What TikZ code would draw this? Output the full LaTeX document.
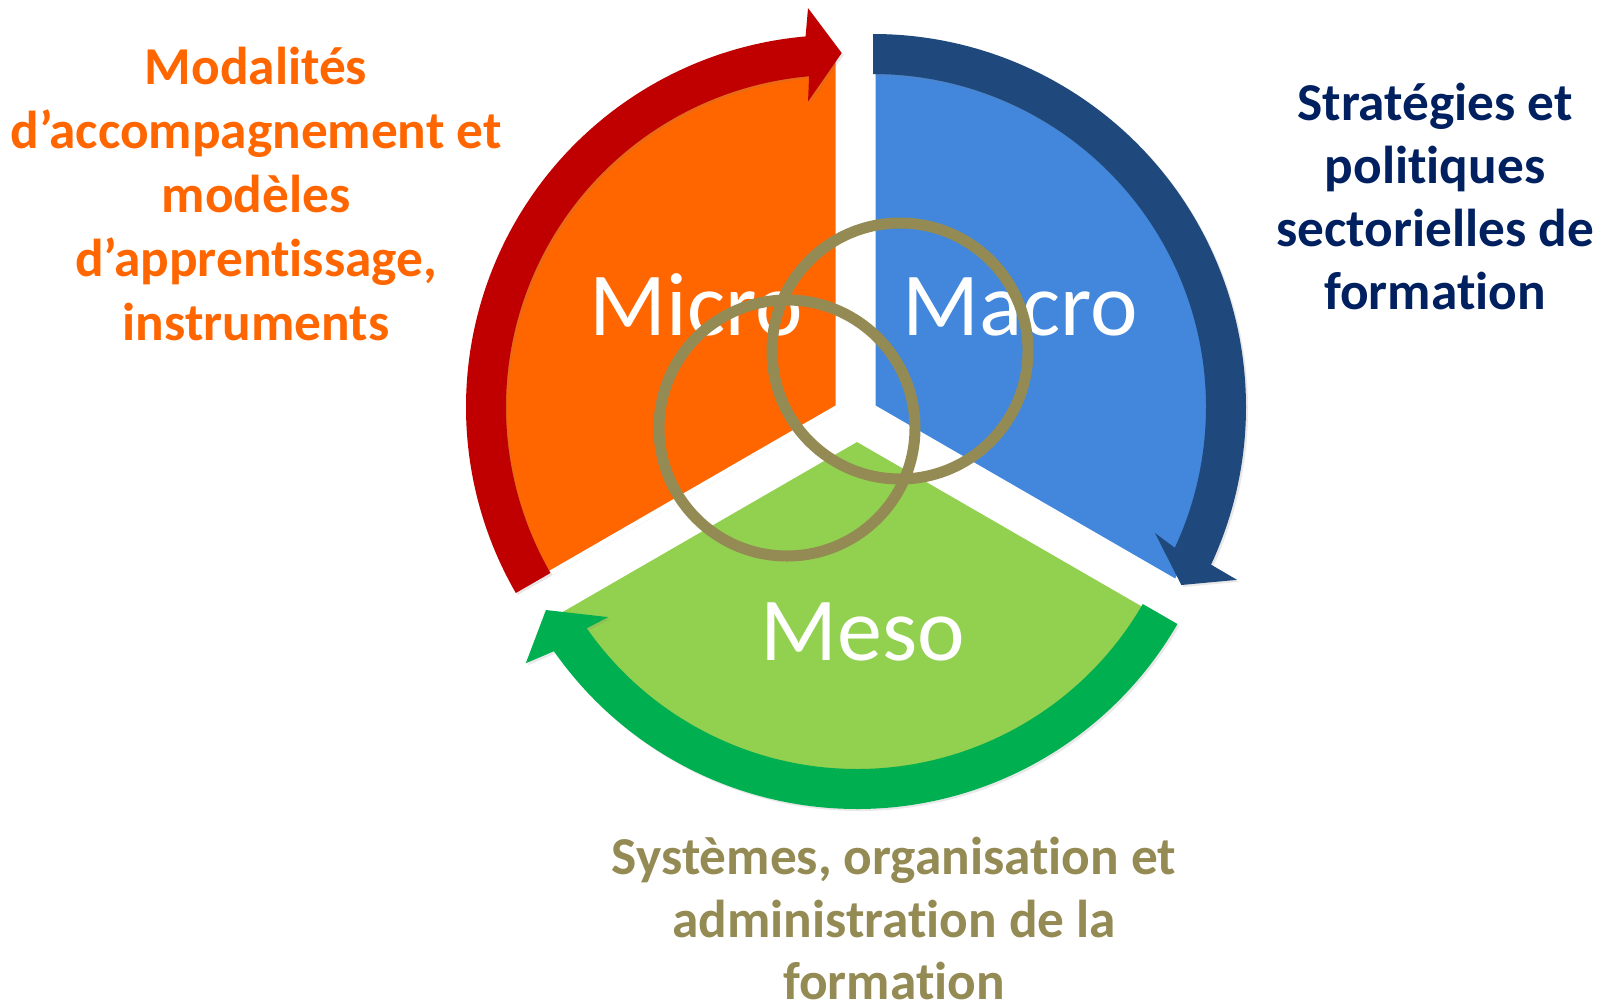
\documentclass[tikz,border=0pt]{standalone}
\usepackage{fontspec}
\setmainfont{Carlito}[Ligatures={NoCommon}]
\usetikzlibrary{shadows,calc}
\definecolor{orangeF}{HTML}{FF6600}
\definecolor{redA}{HTML}{C00000}
\definecolor{blueF}{HTML}{4287DB}
\definecolor{blueA}{HTML}{1F497D}
\definecolor{greenF}{HTML}{92D050}
\definecolor{greenA}{HTML}{00B050}
\definecolor{oliveC}{HTML}{948A54}
\definecolor{navyC}{HTML}{002060}
\begin{document}
\begin{tikzpicture}[x=1pt,y=1pt,
  sector/.style={draw=white, line width=5pt, line join=round,
    drop shadow={opacity=0.18, shadow xshift=2pt, shadow yshift=-2pt}},
  band/.style={drop shadow={opacity=0.18, shadow xshift=2pt, shadow yshift=-2pt}},
  ring/.style={draw=oliveC, line width=11pt},
  big/.style={text=white, font=\fontsize{90}{100}\selectfont, anchor=base, inner sep=0pt},
  lab/.style={font=\bfseries\fontsize{53.3}{64}\selectfont, anchor=base, inner sep=0pt}]

\fill[white] (0,0) rectangle (1606,-1007);
\useasboundingbox (0,0) rectangle (1606,-1007);

\coordinate (vO) at (838,-407);
\coordinate (vB) at (873,-407);
\coordinate (vG) at (857,-439);

% sectors
\path[sector, fill=orangeF] (vO) -- ++(90:350pt) arc[start angle=90, end angle=210, radius=350pt] -- cycle;
\path[sector, fill=blueF] (vB) -- ++(-30:350pt) arc[start angle=-30, end angle=90, radius=350pt] -- cycle;
\path[sector, fill=greenF] (vG) -- ++(210:350pt) arc[start angle=210, end angle=330, radius=350pt] -- cycle;

% curved arrows
\fill[band, fill=redA] ($(vO)+(210:372pt)$) arc[start angle=210, end angle=95, radius=372pt]
  -- ($(vO)+(94.3:400pt)$) -- ($(vO)+(89.4:354pt)$) -- ($(vO)+(95.6:307pt)$)
  -- ($(vO)+(95:332pt)$) arc[start angle=95, end angle=210, radius=332pt] -- cycle;
\fill[band, fill=blueA] ($(vB)+(90:373pt)$) arc[start angle=90, end angle=-25, radius=373pt]
  -- ($(vB)+(-25.4:403pt)$) -- ($(vB)+(-30:356pt)$) -- ($(vB)+(-24.1:309pt)$)
  -- ($(vB)+(-25:333pt)$) arc[start angle=-25, end angle=90, radius=333pt] -- cycle;
\fill[band, fill=greenA] ($(vG)+(-30:370pt)$) arc[start angle=-30, end angle=-145, radius=370pt]
  -- ($(vG)+(-145.9:400pt)$) -- ($(vG)+(-151.2:355pt)$) -- ($(vG)+(-144.4:306pt)$)
  -- ($(vG)+(-145:330pt)$) arc[start angle=-145, end angle=-30, radius=330pt] -- cycle;

% sector titles
\node[big] (micro) at (696,-335) {Micro};
\node[big] (macro) at (1020,-335) {Macro};
\node[big] (meso) at (863,-660) {Meso};

% rings
\draw[ring] (787,-428) circle[radius=128pt];
\draw[ring] (900,-351) circle[radius=128pt];

% labels
\node[lab, text=orangeF] (o1) at (256,-84) {Modalités};
\node[lab, text=orangeF] (o2) at (256,-148) {d’accompagnement et};
\node[lab, text=orangeF] (o3) at (256,-212) {modèles};
\node[lab, text=orangeF] (o4) at (256,-276) {d’apprentissage,};
\node[lab, text=orangeF] (o5) at (256,-340) {instruments};

\node[lab, text=navyC] (n1) at (1435,-120) {Stratégies et};
\node[lab, text=navyC] (n2) at (1435,-183) {politiques};
\node[lab, text=navyC] (n3) at (1435,-246) {sectorielles de};
\node[lab, text=navyC] (n4) at (1435,-309) {formation};

\node[lab, text=oliveC] (g1) at (894,-874) {Systèmes, organisation et};
\node[lab, text=oliveC] (g2) at (894,-937) {administration de la};
\node[lab, text=oliveC] (g3) at (894,-999) {formation};
\end{tikzpicture}
\end{document}
